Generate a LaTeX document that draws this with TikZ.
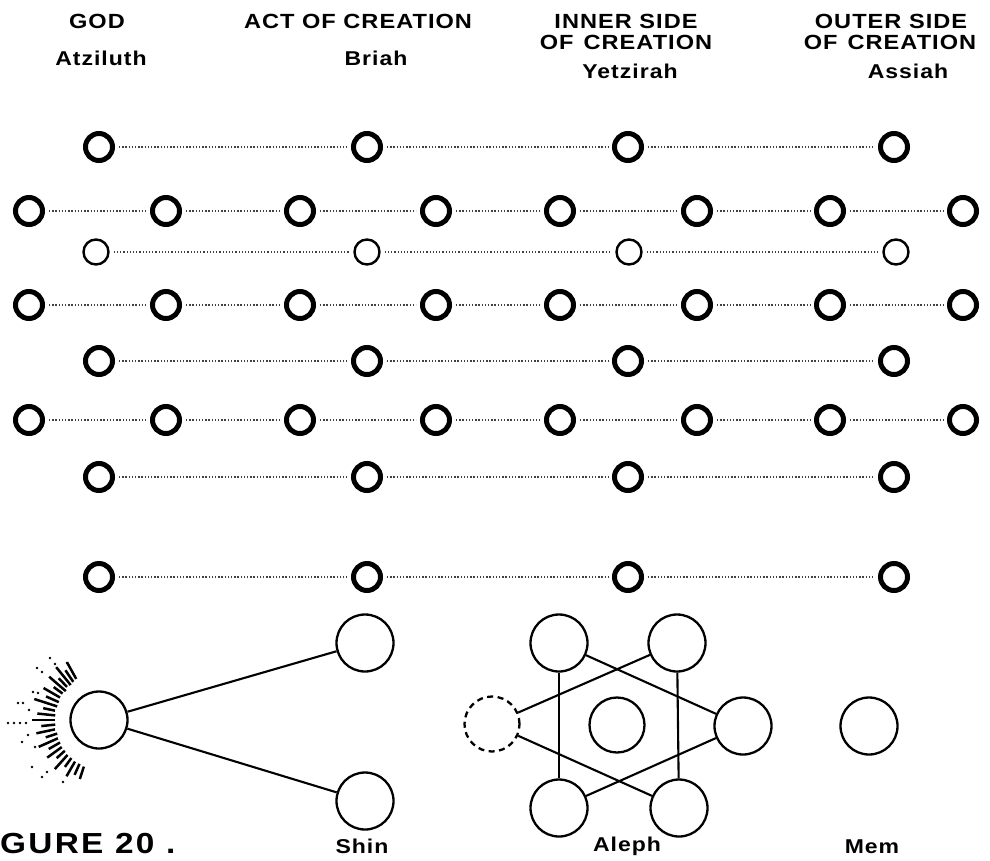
\documentclass[tikz,border=0pt]{standalone}
\usepackage{fontspec}
\usetikzlibrary{calc}
\setmainfont{Liberation Sans}
\newfontfamily\hdfont[FakeStretch=1.15,LetterSpace=5]{Liberation Sans}
\newfontfamily\figfont[FakeStretch=1.15,LetterSpace=8]{Liberation Sans}
\begin{document}
\begin{tikzpicture}[x=1pt,y=-1pt,
  thickc/.style={circle,draw,line width=5pt,minimum size=27pt,inner sep=0pt},
  thinc/.style={circle,draw,line width=2.4pt,minimum size=25pt,inner sep=0pt},
  bigc/.style={circle,draw,line width=2.3pt,minimum size=57pt,inner sep=0pt},
  dashc/.style={bigc,dash pattern=on 6pt off 4.5pt},
  dotline/.style={line width=1.4pt,dash pattern=on 1.3pt off 1.9pt,black!75,shorten <=4pt,shorten >=4pt},
  link/.style={line width=2.1pt},
  raystyle/.style={line width=2.5pt},
  hdr/.style={font=\hdfont\bfseries\fontsize{20.5}{20.5}\selectfont,inner sep=0pt,anchor=base},
  nm/.style={font=\hdfont\bfseries\fontsize{20}{20}\selectfont,inner sep=0pt,anchor=base},
  lab/.style={font=\hdfont\bfseries\fontsize{20}{20}\selectfont,inner sep=0pt,anchor=base}
]
\useasboundingbox (0,0) rectangle (990,860);
\fill[white] (0,0) rectangle (990,860);

% headers
\node[hdr] (hgod) at (97,28) {GOD};
\node[hdr] (hact) at (358,28) {ACT OF CREATION};
\node[hdr] (hin1) at (626,28) {INNER SIDE};
\node[hdr] (hin2) at (626,49) {OF\hspace{10pt}CREATION};
\node[hdr] (hout1) at (891,28) {OUTER SIDE};
\node[hdr] (hout2) at (890,49) {OF\hspace{10pt}CREATION};
\node[nm] (natz) at (101,65) {Atziluth};
\node[nm] (nbri) at (376,65) {Briah};
\node[nm] (nyet) at (630,78) {Yetzirah};
\node[nm] (nass) at (908,78) {Assiah};

% single-circle rows
\foreach \r/\y in {1/147,5/361,7/477,8/577}{
  \foreach \x [count=\i] in {99,367,628,894} { \node[thickc] (s\r-\i) at (\x,\y) {}; }
  \foreach \i/\j in {1/2,2/3,3/4} { \draw[dotline] (s\r-\i) -- (s\r-\j); }
}
% thin row
\foreach \x [count=\i] in {96,367,629,896} { \node[thinc] (t-\i) at (\x,252) {}; }
\foreach \i/\j in {1/2,2/3,3/4} { \draw[dotline] (t-\i) -- (t-\j); }
% pair rows
\foreach \r/\y in {2/211,4/305,6/420}{
  \foreach \x [count=\i] in {29,166,300,436,560,697,830,963} { \node[thickc] (p\r-\i) at (\x,\y) {}; }
  \foreach \i/\j in {1/2,2/3,3/4,4/5,5/6,6/7,7/8} { \draw[dotline] (p\r-\i) -- (p\r-\j); }
}

% Shin
\node[bigc] (god) at (99,720) {};
\node[bigc] (shA) at (365,643) {};
\node[bigc] (shB) at (365,801) {};
\draw[link] (god) -- (shA);
\draw[link] (god) -- (shB);
\foreach \a/\i/\o in {119/47/66,124/46/60,129/45/68,134/46/58,139/44/66,144/45/56,150/45/64,156/44/58,162/44/68,168/45/57,174/44/62,180/44/67,186/44/58,192/45/64,198/44/56,204/45/66,210/45/58,216/46/64,222/46/57,228/47/66,234/47/58,240/48/65,246/48/60,252/49/62}
  { \draw[raystyle] ($(god.center)+(\a:\i pt)$) -- ($(god.center)+(\a:\o pt)$); }
\foreach \p in {(50,658),(55,664),(67,663),(37,668),(42,672),(33,692),(38,693),(18,703),(23,703),(8,723),(14,723),(20,723),(26,723),(22,742),(35,747),(32,767),(42,777),(47,772),(63,782),(29,710),(28,735)}
  { \fill \p circle (1.3pt); }

% Aleph
\node[bigc] (hTL) at (559,643) {};
\node[bigc] (hTR) at (677,643) {};
\node[bigc] (hBL) at (559,808) {};
\node[bigc] (hBR) at (679,808) {};
\node[bigc] (hR) at (743,726) {};
\node[bigc,minimum size=55pt] (hC) at (617,725) {};
\node[dashc,minimum size=55pt] (hD) at (492,724) {};
\draw[link] (hTL) -- (hBL);
\draw[link] (hTR) -- (hBR);
\draw[link] (hTL) -- (hR);
\draw[link] (hBL) -- (hR);
\draw[link] (hD) -- (hTR);
\draw[link] (hD) -- (hBR);

% Mem
\node[bigc] (mem) at (869,726) {};

% labels
\node[lab] (lshin) at (362,853) {Shin};
\node[lab] (laleph) at (627,851) {Aleph};
\node[lab] (lmem) at (872,853) {Mem};
\node[font=\figfont\bfseries\fontsize{29}{29}\selectfont,inner sep=0pt,anchor=base west] (fig) at (0,853) {GURE 20 .};
\end{tikzpicture}
\end{document}
